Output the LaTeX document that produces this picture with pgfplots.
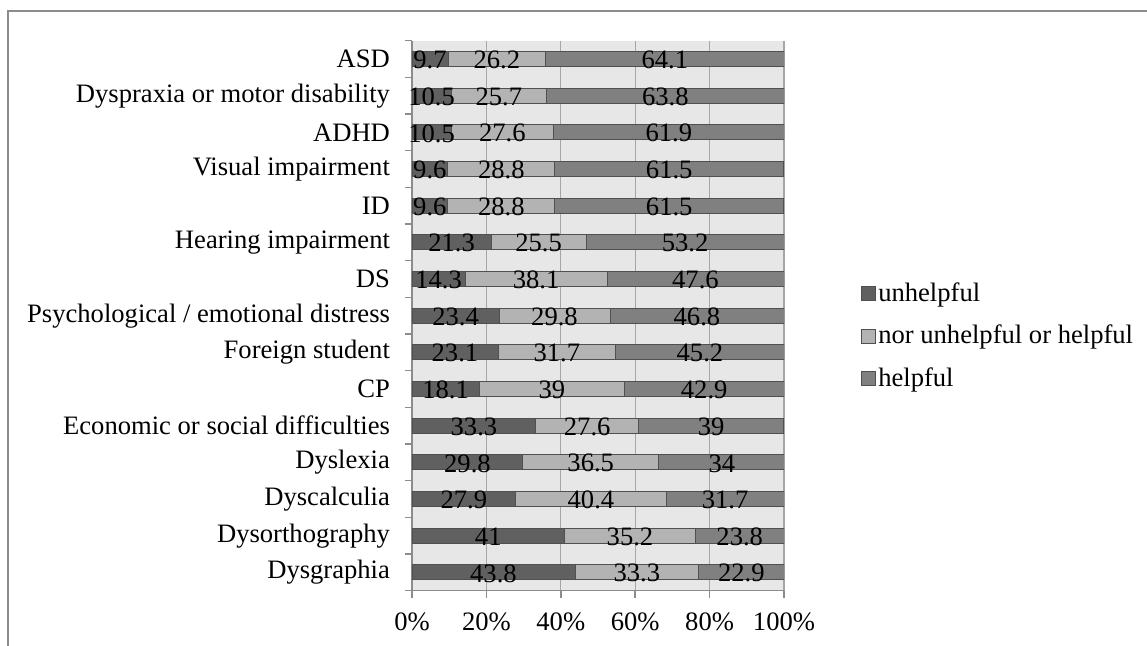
\documentclass[border=0pt]{standalone}
\usepackage{fontspec}
\setmainfont{Liberation Serif}
\usepackage{pgfplots}
\usepackage{pgfplotstable}
\pgfplotsset{compat=1.18}

\definecolor{cUnh}{HTML}{606060}
\definecolor{cMid}{HTML}{B3B3B3}
\definecolor{cHlp}{HTML}{808080}
\definecolor{cEdge}{HTML}{505050}
\definecolor{cBg}{HTML}{E7E7E7}
\definecolor{cGrid}{HTML}{A6A6A6}
\definecolor{cAxis}{HTML}{8C8C8C}

% pos 0 = bottom row (Dysgraphia), pos 14 = top row (ASD)
\pgfplotstableread{
pos unh mid hlp
0  43.8 33.3 22.9
1  41   35.2 23.8
2  27.9 40.4 31.7
3  29.8 36.5 34
4  33.3 27.6 39
5  18.1 39   42.9
6  23.1 31.7 45.2
7  23.4 29.8 46.8
8  14.3 38.1 47.6
9  21.3 25.5 53.2
10 9.6  28.8 61.5
11 9.6  28.8 61.5
12 10.5 27.6 61.9
13 10.5 25.7 63.8
14 9.7  26.2 64.1
}\data

\newcommand{\chartfont}{\fontsize{13.3}{15.5}\selectfont}

\pgfplotsset{
  samebox/.style={at={(206pt,27.65pt)}, anchor=south west,
    scale only axis, width=186pt, height=275pt,
    xmin=0, xmax=100, ymin=-0.5, ymax=14.5},
  seglabel/.style={only marks, mark=*, mark size=0pt,
    mark options={draw=none, fill=none},
    nodes near coords, point meta=explicit symbolic,
    every node near coord/.append style={font=\chartfont, text=black,
      anchor=center, yshift=-0.5pt}},
}

\begin{document}
\begin{tikzpicture}
\useasboundingbox (0,0) rectangle (573.5pt,323pt);
\begin{axis}[
  samebox,
  xbar stacked, bar width=7.5pt,
  axis x line*=bottom, axis y line*=left,
  axis line style={cAxis, line width=0.75pt},
  axis background/.style={fill=cBg},
  xmajorgrids, major grid style={cGrid, line width=0.6pt},
  xtick={0,20,...,100},
  xticklabel={\pgfmathprintnumber{\tick}\%},
  xticklabel shift=4pt,
  ytick={0,...,14},
  yticklabels={Dysgraphia, Dysorthography, Dyscalculia, Dyslexia,
    Economic or social difficulties, CP, Foreign student,
    Psychological / emotional distress, DS, Hearing impairment, ID,
    Visual impairment, ADHD, Dyspraxia or motor disability, ASD},
  yticklabel shift=4pt,
  minor ytick={-0.5,0.5,...,14.5},
  major y tick style={draw=none},
  tick align=outside, major tick length=3.5pt, minor tick length=3.5pt,
  tick style={cAxis, line width=0.75pt},
  tick label style={font=\chartfont},
  /pgf/number format/assume math mode=true,
  legend style={draw=none, fill=none, font=\chartfont,
    at={(axis description cs:1.191,0.463)}, anchor=west,
    row sep=8.5pt, nodes={inner sep=1pt}},
  legend cell align=left,
  legend image code/.code={\draw[#1] (0pt,-3.5pt) rectangle (7pt,3.5pt);},
]
\addplot[fill=cUnh, draw=cEdge] table[x=unh, y=pos] {\data};
\addplot[fill=cMid, draw=cEdge] table[x=mid, y=pos] {\data};
\addplot[fill=cHlp, draw=cEdge] table[x=hlp, y=pos] {\data};
\legend{unhelpful, nor unhelpful or helpful, helpful}
\end{axis}
% value labels in the middle of each segment
\begin{axis}[samebox, hide axis, clip=false]
\addplot[seglabel] table[x expr=\thisrow{unh}/2, y=pos, meta=unh] {\data};
\addplot[seglabel] table[x expr=\thisrow{unh}+\thisrow{mid}/2, y=pos, meta=mid] {\data};
\addplot[seglabel] table[x expr=\thisrow{unh}+\thisrow{mid}+\thisrow{hlp}/2, y=pos, meta=hlp] {\data};
\end{axis}
\draw[cAxis, line width=0.75pt] (4pt,0pt) -- (4pt,317.5pt) -- (573.5pt,317.5pt);
\end{tikzpicture}
\end{document}
